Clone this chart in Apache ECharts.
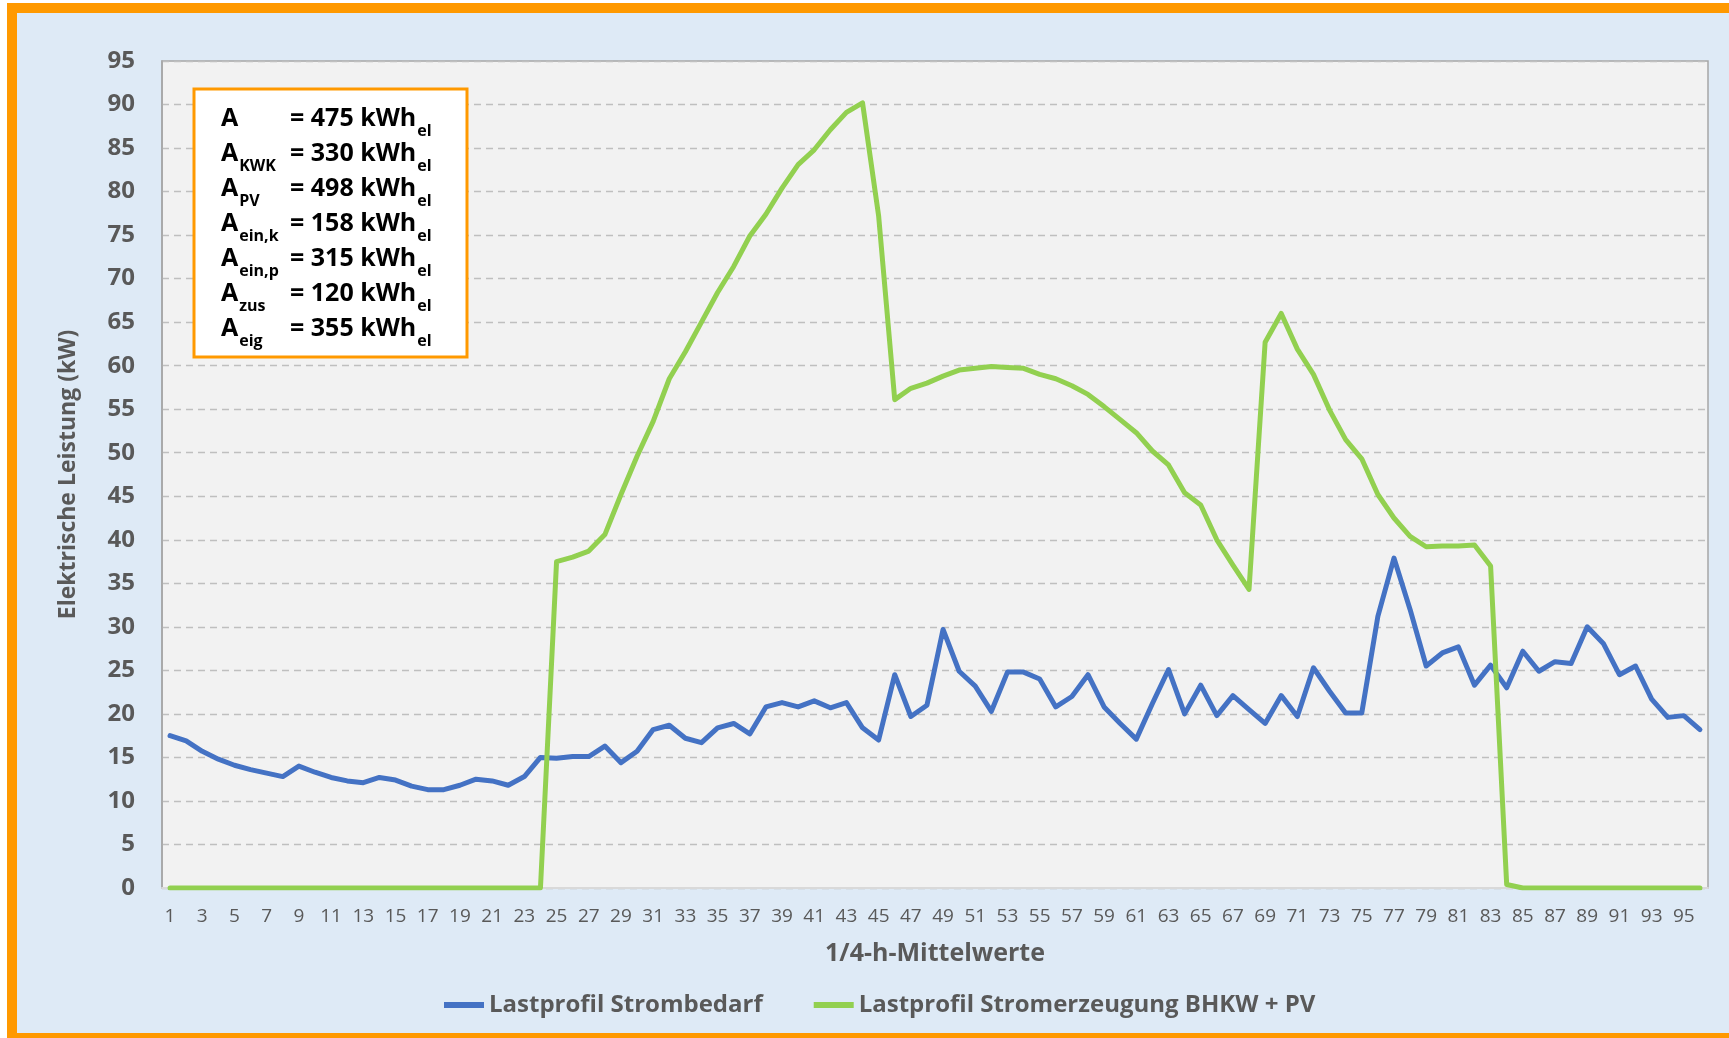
<!DOCTYPE html>
<html>
<head>
<meta charset="utf-8">
<title>Lastprofil Strom</title>
<script src="https://cdn.jsdelivr.net/npm/echarts@6/dist/echarts.min.js"></script>
<style>
  html, body { margin: 0; padding: 0; background: #fff; }
  #main { width: 1729px; height: 1038px; }
</style>
</head>
<body>
<div id="main"></div>
<script>
// 1/4-h-Mittelwerte 1..96
var categories = [];
for (var k = 1; k <= 96; k++) {
  categories.push(String(k));
}

// Lastprofil Strombedarf (kW)
var strombedarf = [
  17.5, 16.9, 15.7, 14.8, 14.1, 13.6, 13.2, 12.8, 14.0, 13.3,
  12.7, 12.3, 12.1, 12.7, 12.4, 11.7, 11.3, 11.3, 11.8, 12.5,
  12.3, 11.8, 12.8, 15.0, 14.9, 15.1, 15.1, 16.3, 14.4, 15.7,
  18.2, 18.7, 17.2, 16.7, 18.4, 18.9, 17.7, 20.8, 21.3, 20.8,
  21.5, 20.7, 21.3, 18.4, 17.0, 24.5, 19.7, 21.0, 29.7, 24.9,
  23.2, 20.3, 24.8, 24.8, 24.0, 20.8, 22.0, 24.5, 20.8, 18.9,
  17.1, 21.2, 25.1, 20.0, 23.3, 19.8, 22.1, 20.5, 18.9, 22.1,
  19.7, 25.3, 22.6, 20.1, 20.1, 31.2, 37.9, 32.0, 25.5, 27.0,
  27.7, 23.3, 25.6, 23.0, 27.2, 24.9, 26.0, 25.8, 30.0, 28.1,
  24.5, 25.5, 21.7, 19.6, 19.8, 18.2
];

// Lastprofil Stromerzeugung BHKW + PV (kW)
var erzeugung = [
  0, 0, 0, 0, 0, 0, 0, 0, 0, 0,
  0, 0, 0, 0, 0, 0, 0, 0, 0, 0,
  0, 0, 0, 0, 37.5, 38.0, 38.7, 40.6, 45.2, 49.6,
  53.6, 58.5, 61.6, 65.0, 68.4, 71.4, 74.9, 77.4, 80.4, 83.1,
  84.8, 87.1, 89.1, 90.2, 77.2, 56.1, 57.4, 58.0, 58.8, 59.5,
  59.7, 59.9, 59.8, 59.7, 59.0, 58.5, 57.7, 56.7, 55.3, 53.8,
  52.3, 50.2, 48.6, 45.4, 44.0, 40.0, 37.1, 34.3, 62.7, 66.0,
  61.9, 59.0, 54.9, 51.5, 49.3, 45.2, 42.5, 40.4, 39.2, 39.3,
  39.3, 39.4, 37.0, 0.4, 0, 0, 0, 0, 0, 0,
  0, 0, 0, 0, 0, 0
];

// Kennwerte im Textfeld
var boxSubs = ['', 'KWK', 'PV', 'ein,k', 'ein,p', 'zus', 'eig'];
var boxValues = [475, 330, 498, 158, 315, 120, 355];

var fontName = 'Open Sans';
var grau = '#595959';

var myChart = echarts.init(document.getElementById('main'));

var boxRich = {
  m: { fontSize: 25, fontWeight: 'bold', fontFamily: fontName, fill: '#000', lineHeight: 40 },
  s: { fontSize: 16, fontWeight: 'bold', fontFamily: fontName, fill: '#000', lineHeight: 16, padding: [24, 0, 0, 1] }
};

var graphics = [
  // Hintergrund mit orangem Rahmen
  {
    type: 'rect', z: -10, silent: true,
    shape: { x: 12, y: 8, width: 1727, height: 1030 },
    style: { fill: '#DEEAF6', stroke: '#FF9900', lineWidth: 10 }
  },
  // Textfeld
  {
    type: 'rect', z: 100,
    shape: { x: 194, y: 89, width: 273, height: 268 },
    style: { fill: '#fff', stroke: '#FF9900', lineWidth: 3 }
  }
];

for (var i = 0; i < boxValues.length; i++) {
  var y = 119 + 35 * i;
  graphics.push({
    type: 'text', z: 101, x: 221, y: y,
    style: {
      text: '{m|A}' + (boxSubs[i] ? '{s|' + boxSubs[i] + '}' : ''),
      rich: boxRich, align: 'left', verticalAlign: 'middle'
    }
  });
  graphics.push({
    type: 'text', z: 101, x: 290, y: y,
    style: {
      text: '{m|= ' + boxValues[i] + ' kWh}{s|el}',
      rich: boxRich, align: 'left', verticalAlign: 'middle'
    }
  });
}

var option = {
  backgroundColor: '#fff',
  animation: false,
  textStyle: { fontFamily: fontName },
  grid: {
    left: 162, right: 21, top: 61, bottom: 150,
    outerBoundsMode: 'none',
    show: true,
    backgroundColor: '#F2F2F2',
    borderColor: '#A6A6A6',
    borderWidth: 1.5
  },
  legend: {
    left: 439,
    top: 988,
    icon: 'rect',
    itemWidth: 40,
    itemHeight: 6,
    itemGap: 51,
    textStyle: { fontSize: 24, fontWeight: 'bold', color: grau, fontFamily: fontName },
    data: ['Lastprofil Strombedarf', 'Lastprofil Stromerzeugung BHKW + PV']
  },
  xAxis: {
    type: 'category',
    data: categories,
    boundaryGap: true,
    name: '1/4-h-Mittelwerte',
    nameLocation: 'middle',
    nameGap: 53,
    nameTextStyle: { fontSize: 25, fontWeight: 'bold', color: grau, fontFamily: fontName },
    axisLine: { lineStyle: { color: '#D9D9D9', width: 2 } },
    axisTick: { show: false },
    axisLabel: { interval: 1, fontSize: 19, color: grau, margin: 19, fontFamily: fontName }
  },
  yAxis: {
    type: 'value',
    min: 0,
    max: 95,
    interval: 5,
    name: 'Elektrische Leistung (kW)',
    nameLocation: 'middle',
    nameRotate: 90,
    nameGap: 82,
    nameTextStyle: { fontSize: 23, fontWeight: 'bold', color: grau, fontFamily: fontName },
    axisLine: { show: true, lineStyle: { color: '#A6A6A6', width: 1.5 } },
    axisTick: { show: false },
    axisLabel: { fontSize: 24, fontWeight: 'bold', color: grau, margin: 27, fontFamily: fontName },
    splitLine: { lineStyle: { color: '#BFBFBF', width: 1.3, type: [7, 5] } }
  },
  series: [
    {
      name: 'Lastprofil Strombedarf',
      type: 'line',
      data: strombedarf,
      symbol: 'none',
      color: '#4472C4',
      lineStyle: { width: 5, color: '#4472C4', cap: 'round', join: 'round' }
    },
    {
      name: 'Lastprofil Stromerzeugung BHKW + PV',
      type: 'line',
      data: erzeugung,
      symbol: 'none',
      color: '#92D050',
      lineStyle: { width: 5, color: '#92D050', cap: 'round', join: 'round' }
    }
  ],
  graphic: graphics
};

myChart.setOption(option);
</script>
</body>
</html>
